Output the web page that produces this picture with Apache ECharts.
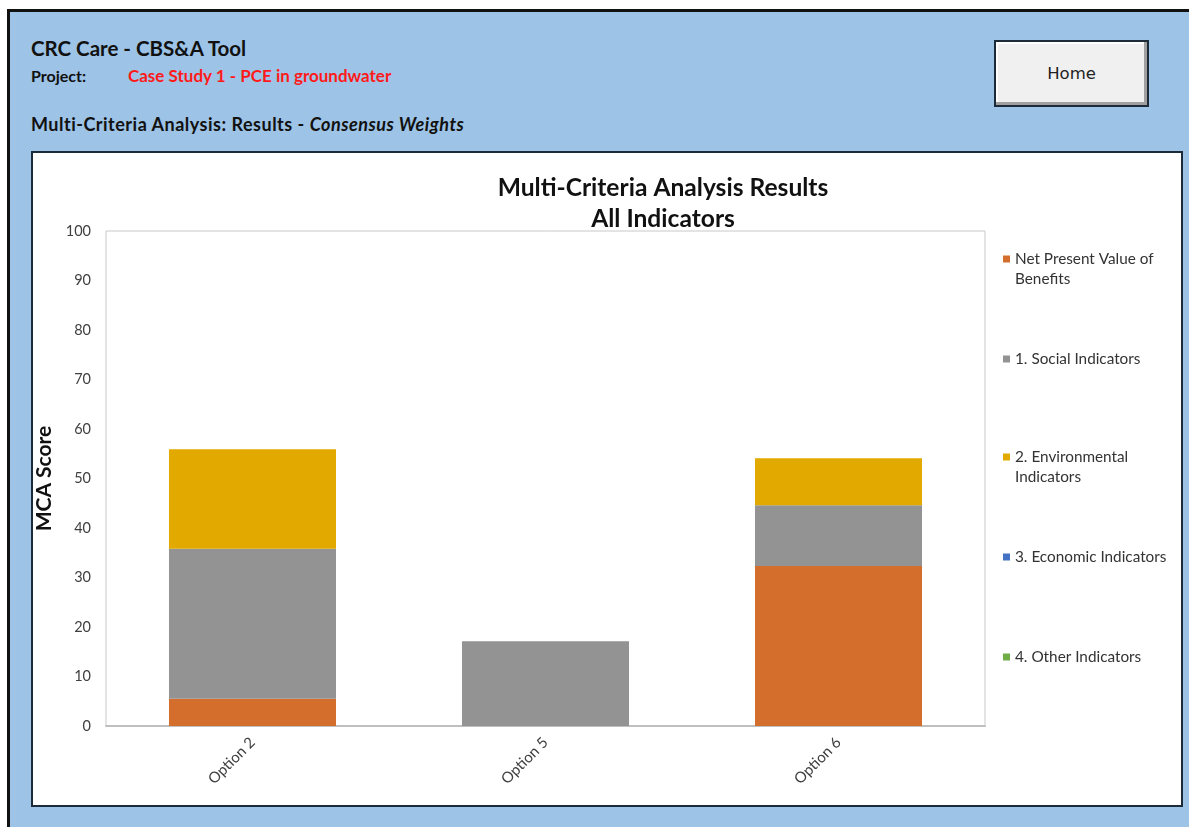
<!DOCTYPE html>
<html>
<head>
<meta charset="utf-8">
<script src="https://cdn.jsdelivr.net/npm/echarts@6/dist/echarts.min.js"></script>
<style>
  html, body { margin: 0; padding: 0; width: 1189px; height: 827px; overflow: hidden; background: #ffffff; font-family: Lato, "Open Sans", sans-serif; }
  #sheet { position: absolute; left: 7px; top: 9px; width: 1182px; height: 818px; background: #9dc3e6; border-left: 3px solid #111; border-top: 3px solid #111; box-sizing: border-box; }
  .hdr { position: absolute; font-weight: bold; color: #111; white-space: nowrap; }
  #home { position: absolute; left: 994px; top: 40px; width: 155px; height: 67px; box-sizing: border-box; border: 2px solid #1d2b38; background: #f0f0f0; box-shadow: inset -3px -3px 0 #a0a0a0, inset 2px 2px 0 #ffffff; font-family: "DejaVu Sans", sans-serif; font-size: 16.5px; color: #222; text-align: center; line-height: 63px; }
  #panel { position: absolute; left: 31px; top: 151px; width: 1152px; height: 656px; box-sizing: border-box; background: #ffffff; border: 2px solid #1d2b38; }
  #chart { position: absolute; left: 0; top: 0; width: 1189px; height: 827px; }
</style>
</head>
<body>
<div id="sheet"></div>
<div class="hdr" style="left:31px; top:36px; font-size:20.5px;">CRC Care - CBS&amp;A Tool</div>
<div class="hdr" style="left:31px; top:66px; font-size:16px;">Project:</div>
<div class="hdr" style="left:128px; top:65px; font-size:17px; color:#ff1a1a;">Case Study 1 - PCE in groundwater</div>
<div class="hdr" style="left:31px; top:113px; font-size:18px; letter-spacing:0.5px;">Multi-Criteria Analysis: Results - <i>Consensus Weights</i></div>
<div id="home">Home</div>
<div id="panel"></div>
<div id="chart"></div>
<script>
// Options being compared
const categories = ['Option 2', 'Option 5', 'Option 6'];

// MCA score contributions per option
const npvBenefits   = [5.5, 0, 32.3];
const social        = [30.3, 17.1, 12.3];
const environmental = [20.1, 0, 9.5];
const economic      = [0, 0, 0];
const other         = [0, 0, 0];

const seriesNames = [
  'Net Present Value of Benefits',
  '1. Social Indicators',
  '2. Environmental Indicators',
  '3. Economic Indicators',
  '4. Other Indicators'
];
const legendLabels = [
  'Net Present Value of\nBenefits',
  '1. Social Indicators',
  '2. Environmental\nIndicators',
  '3. Economic Indicators',
  '4. Other Indicators'
];
const seriesValues = [npvBenefits, social, environmental, economic, other];
const colors = ['#d36e2c', '#939393', '#e2aa00', '#4472c4', '#70ad47'];

// Vertical centre of each legend swatch
const legendCentres = [259, 359, 457, 557, 657];
const LEGEND_LINE = 20;

const chart = echarts.init(document.getElementById('chart'), null, { renderer: 'canvas' });

// One legend block per series; wrapped labels get an empty leading line so the
// swatch lines up with the first line of text.
const legends = seriesNames.map((name, i) => {
  const wrapped = legendLabels[i].indexOf('\n') >= 0;
  const label = wrapped ? '\n' + legendLabels[i] : legendLabels[i];
  const lines = label.split('\n').length;
  return {
    orient: 'vertical',
    left: 1003,
    top: legendCentres[i] - lines * LEGEND_LINE / 2,
    padding: 0,
    itemWidth: 7,
    itemHeight: 7,
    itemGap: 0,
    icon: 'rect',
    selectedMode: false,
    data: [name],
    formatter: () => label,
    textStyle: {
      fontFamily: 'Lato, sans-serif',
      fontSize: 15.3,
      color: '#333',
      lineHeight: LEGEND_LINE
    }
  };
});

chart.setOption({
  animation: false,
  backgroundColor: 'transparent',
  title: {
    text: 'Multi-Criteria Analysis Results\nAll Indicators',
    left: 663,
    top: 173,
    textAlign: 'center',
    padding: 0,
    textStyle: { fontFamily: 'Lato, sans-serif', fontSize: 24.6, fontWeight: 'bold', color: '#111', lineHeight: 31 }
  },
  legend: legends,
  grid: {
    left: 106, top: 231, right: 204, bottom: 101,
    show: true, borderColor: '#c8c8c8', borderWidth: 1, backgroundColor: 'transparent'
  },
  xAxis: {
    type: 'category',
    data: categories,
    axisTick: { show: false },
    axisLine: { show: true, lineStyle: { color: '#bfbfbf', width: 2 } },
    axisLabel: { rotate: 45, margin: 14, fontFamily: 'Lato, sans-serif', fontSize: 15, color: '#404040' }
  },
  yAxis: {
    type: 'value',
    min: 0, max: 100, interval: 10,
    name: 'MCA Score',
    nameLocation: 'middle',
    nameGap: 42,
    nameTextStyle: { fontFamily: 'Lato, sans-serif', fontSize: 21, fontWeight: 'bold', color: '#111' },
    splitLine: { show: false },
    axisLine: { show: false },
    axisTick: { show: false },
    axisLabel: { margin: 15, fontFamily: 'Lato, sans-serif', fontSize: 14.5, color: '#404040' }
  },
  series: seriesNames.map((name, i) => ({
    name,
    type: 'bar',
    stack: 'total',
    data: seriesValues[i],
    barWidth: '57%',
    itemStyle: { color: colors[i] }
  }))
});
</script>
</body>
</html>
